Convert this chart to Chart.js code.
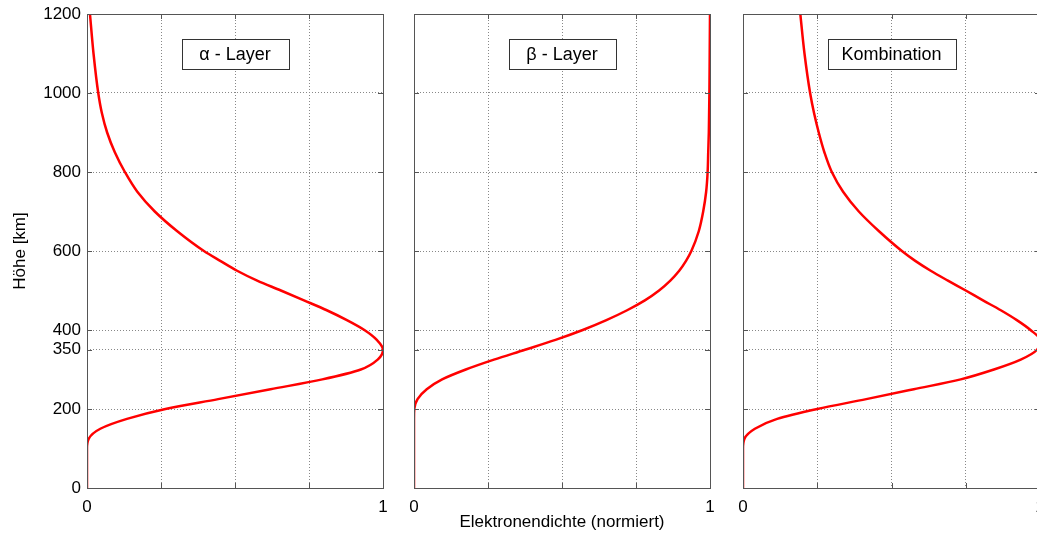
<!DOCTYPE html>
<html>
<head>
<meta charset="utf-8">
<script src="https://cdn.jsdelivr.net/npm/chart.js@4"></script>
<style>
  html, body { margin: 0; padding: 0; overflow: hidden; background: #fff; }
  #wrap { position: relative; width: 1045px; height: 537px; }
  #wrap canvas { position: absolute; top: 0; }
</style>
</head>
<body>
<div id="wrap">
  <canvas id="alpha" width="390" height="537" style="left:0px"></canvas>
  <canvas id="beta" width="320" height="537" style="left:400px"></canvas>
  <canvas id="kombi" width="315" height="537" style="left:730px"></canvas>
</div>
<script>
// Höhe in km
const heights = [0, 100, 125, 150, 175, 200, 225, 250, 275, 300, 325, 350, 375, 400, 425, 450, 475, 500, 525, 550,
  575, 600, 650, 700, 750, 800, 850, 900, 950, 1000, 1100, 1200];

// normierte Elektronendichte je Profil
const alphaLayer = [0, 0, 0.006, 0.045, 0.135, 0.265, 0.443, 0.62, 0.795, 0.925, 0.982, 1, 0.979, 0.937, 0.878, 0.81,
  0.733, 0.655, 0.575, 0.507, 0.45, 0.395, 0.305, 0.229, 0.17, 0.128, 0.094, 0.068, 0.05, 0.038, 0.022, 0.01];
const betaLayer = [0, 0, 0, 0, 0, 0.001, 0.012, 0.043, 0.095, 0.175, 0.27, 0.375, 0.478, 0.57, 0.65, 0.72,
  0.78, 0.828, 0.866, 0.896, 0.919, 0.937, 0.962, 0.977, 0.987, 0.992, 0.994, 0.996, 0.997, 0.998, 0.999, 1];
const kombination = [0, 0, 0.005, 0.04, 0.115, 0.25, 0.415, 0.575, 0.733, 0.845, 0.935, 0.99, 1, 0.968, 0.922, 0.868,
  0.808, 0.75, 0.69, 0.632, 0.58, 0.535, 0.458, 0.39, 0.337, 0.299, 0.274, 0.255, 0.239, 0.226, 0.207, 0.193];

const yTicks = [0, 200, 350, 400, 600, 800, 1000, 1200];
const xLabeled = [0, 1];

const FONT = { family: 'Liberation Sans, Arial, sans-serif', size: 17 };
const FRAME = '#555';

// Rahmen, nach innen zeigende Ticks und Beschriftungskasten
const framePlugin = {
  id: 'frame',
  afterDraw(chart, args, opts) {
    const { ctx, chartArea: a, scales } = chart;
    ctx.save();
    ctx.strokeStyle = FRAME;
    ctx.lineWidth = 1;
    ctx.beginPath();
    scales.y.ticks.forEach(t => {
      const py = Math.round(scales.y.getPixelForValue(t.value)) + 0.5;
      ctx.moveTo(a.left, py); ctx.lineTo(a.left + 5, py);
      ctx.moveTo(a.right, py); ctx.lineTo(a.right - 5, py);
    });
    scales.x.ticks.forEach(t => {
      const px = Math.round(scales.x.getPixelForValue(t.value)) + 0.5;
      ctx.moveTo(px, a.top); ctx.lineTo(px, a.top + 5);
      ctx.moveTo(px, a.bottom); ctx.lineTo(px, a.bottom - 5);
    });
    ctx.stroke();
    ctx.strokeRect(Math.round(a.left) + 0.5, Math.round(a.top) + 0.5,
      Math.round(a.right - a.left), Math.round(a.bottom - a.top));

    if (opts.text) {
      const cx = (a.left + a.right) / 2;
      const cy = a.top + 40;
      const w = opts.boxWidth, h = 30;
      ctx.fillStyle = '#fff';
      ctx.fillRect(cx - w / 2, cy - h / 2, w, h);
      ctx.strokeStyle = '#333';
      ctx.strokeRect(Math.round(cx - w / 2) + 0.5, Math.round(cy - h / 2) + 0.5, w, h);
      ctx.fillStyle = '#000';
      ctx.font = '18px ' + FONT.family;
      ctx.textAlign = 'center';
      ctx.textBaseline = 'middle';
      ctx.fillText(opts.text, cx, cy + 1);
    }
    ctx.restore();
  }
};

function makePanel(id, values, cfg) {
  const points = heights.map((h, i) => ({ x: values[i], y: h }));
  return new Chart(document.getElementById(id), {
    type: 'line',
    data: {
      datasets: [{
        data: points,
        borderColor: '#ff0000',
        borderWidth: 2.5,
        pointRadius: 0,
        fill: false,
        cubicInterpolationMode: 'monotone'
      }]
    },
    options: {
      indexAxis: 'y',
      responsive: false,
      animation: false,
      layout: { padding: { left: cfg.padLeft, right: cfg.padRight, top: 14, bottom: 0 } },
      plugins: {
        legend: { display: false },
        tooltip: { enabled: false },
        frame: { text: cfg.label, boxWidth: cfg.boxWidth }
      },
      scales: {
        x: {
          type: 'linear',
          min: 0,
          max: 1,
          ticks: {
            stepSize: 0.25,
            autoSkip: false,
            maxRotation: 0,
            padding: 9,
            color: '#000',
            font: FONT,
            callback: v => xLabeled.includes(v) ? String(v) : ''
          },
          grid: { color: '#888', drawTicks: false },
          border: { display: false, dash: [1, 2] },
          title: {
            display: !!cfg.xTitle,
            text: cfg.xTitle || '',
            color: '#000',
            font: FONT,
            padding: { top: 0, bottom: 4 }
          },
          afterFit: s => { s.height = 49; s.paddingLeft = 0; s.paddingRight = 0; }
        },
        y: {
          type: 'linear',
          min: 0,
          max: 1200,
          afterBuildTicks: s => { s.ticks = yTicks.map(v => ({ value: v })); },
          ticks: {
            display: cfg.yLabels,
            padding: 6,
            color: '#000',
            font: FONT,
            callback: v => String(v)
          },
          grid: { color: '#888', drawTicks: false },
          border: { display: false, dash: [1, 2] },
          title: {
            display: cfg.yLabels,
            text: 'Höhe [km]',
            color: '#000',
            font: FONT,
            padding: { top: 0, bottom: 0 }
          },
          afterFit: s => { s.width = cfg.yWidth; s.paddingTop = 0; s.paddingBottom = 0; }
        }
      }
    },
    plugins: [framePlugin]
  });
}

makePanel('alpha', alphaLayer, { label: 'α - Layer', boxWidth: 107, padLeft: 10, padRight: 7, yWidth: 77, yLabels: true });
makePanel('beta', betaLayer, { label: 'β - Layer', boxWidth: 107, padLeft: 14, padRight: 10, yWidth: 0, yLabels: false,
  xTitle: 'Elektronendichte (normiert)' });
makePanel('kombi', kombination, { label: 'Kombination', boxWidth: 128, padLeft: 13, padRight: 5, yWidth: 0, yLabels: false });
</script>
</body>
</html>
